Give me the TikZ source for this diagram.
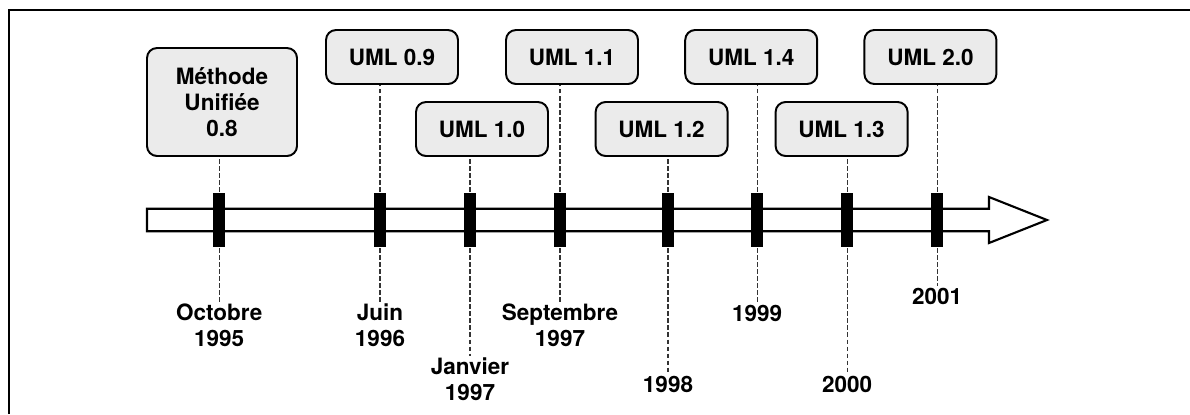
\documentclass[tikz,border=0pt]{standalone}
\usepackage{fontspec}
\setmainfont{TeX Gyre Heros}
\usepackage{tikz}
\usepackage{xcolor}
\definecolor{boxgray}{RGB}{235,235,235}

\begin{document}
\begin{tikzpicture}[font=\fontsize{16}{18.5}\selectfont\bfseries,
version/.style={draw,line width=1.4pt,rounded corners=0.25cm,fill=boxgray,minimum width=3.3cm,minimum height=1.35cm,align=center},
tick/.style={fill=black,inner sep=0pt,minimum width=0.3cm,minimum height=1.35cm},
date/.style={align=center,inner sep=1pt},
link/.style={line width=0.9pt,black!80,dash pattern=on 3.2pt off 1.8pt}]

\useasboundingbox (0,-4.85) rectangle (29.75,5.5);
\draw[line width=1.4pt] (0.225,-4.85) -- (0.225,5.25) -- (29.75,5.25);

% the time axis
\draw[line width=1.5pt,fill=white] (3.675,0.28) -- (24.725,0.28) -- (24.725,0.575) -- (26.175,0)
  -- (24.725,-0.575) -- (24.725,-0.28) -- (3.675,-0.28) -- cycle;

\node[version,minimum width=3.75cm,minimum height=2.7cm](9) at (5.55,2.95){M\'ethode\\Unifi\'ee\\0.8};
\node[version](10) at (9.8,4.075){UML 0.9};
\node[version](11) at (12.05,2.275){UML 1.0};
\node[version](12) at (14.3,4.075){UML 1.1};
\node[version](13) at (16.54,2.275){UML 1.2};
\node[version](14) at (18.78,4.075){UML 1.4};
\node[version](15) at (21.04,2.275){UML 1.3};
\node[version](16) at (23.26,4.075){UML 2.0};

\node[date](17) at (5.48,-2.625){Octobre\\1995};
\node[date](18) at (9.5,-2.625){Juin\\1996};
\node[date](19) at (11.75,-3.975){Janvier\\1997};
\node[date](20) at (14,-2.625){Septembre\\1997};
\node[date](21) at (16.7,-4.1){1998};
\node[date](22) at (18.93,-2.325){1999};
\node[date](23) at (21.18,-4.1){2000};
\node[date](24) at (23.43,-1.9){2001};

\coordinate(1) at (5.48,0);
\coordinate(2) at (9.5,0);
\coordinate(3) at (11.75,0);
\coordinate(4) at (14,0);
\coordinate(5) at (16.7,0);
\coordinate(6) at (18.93,0);
\coordinate(7) at (21.18,0);
\coordinate(8) at (23.43,0);

\draw[link](1) -- (1 |- 9.south);
\draw[link](2) -- (2 |- 10.south);
\draw[link](3) -- (3 |- 11.south);
\draw[link](4) -- (4 |- 12.south);
\draw[link](5) -- (5 |- 13.south);
\draw[link](6) -- (6 |- 14.south);
\draw[link](7) -- (7 |- 15.south);
\draw[link](8) -- (8 |- 16.south);
\draw[link](1) -- (17.north);
\draw[link](2) -- (18.north);
\draw[link](3) -- (19.north);
\draw[link](4) -- (20.north);
\draw[link](5) -- (21.north);
\draw[link](6) -- (22.north);
\draw[link](7) -- (23.north);
\draw[link](8) -- (24.north);

\node[tick] at (1){};
\node[tick] at (2){};
\node[tick] at (3){};
\node[tick] at (4){};
\node[tick] at (5){};
\node[tick] at (6){};
\node[tick] at (7){};
\node[tick] at (8){};
\end{tikzpicture}
\end{document}
